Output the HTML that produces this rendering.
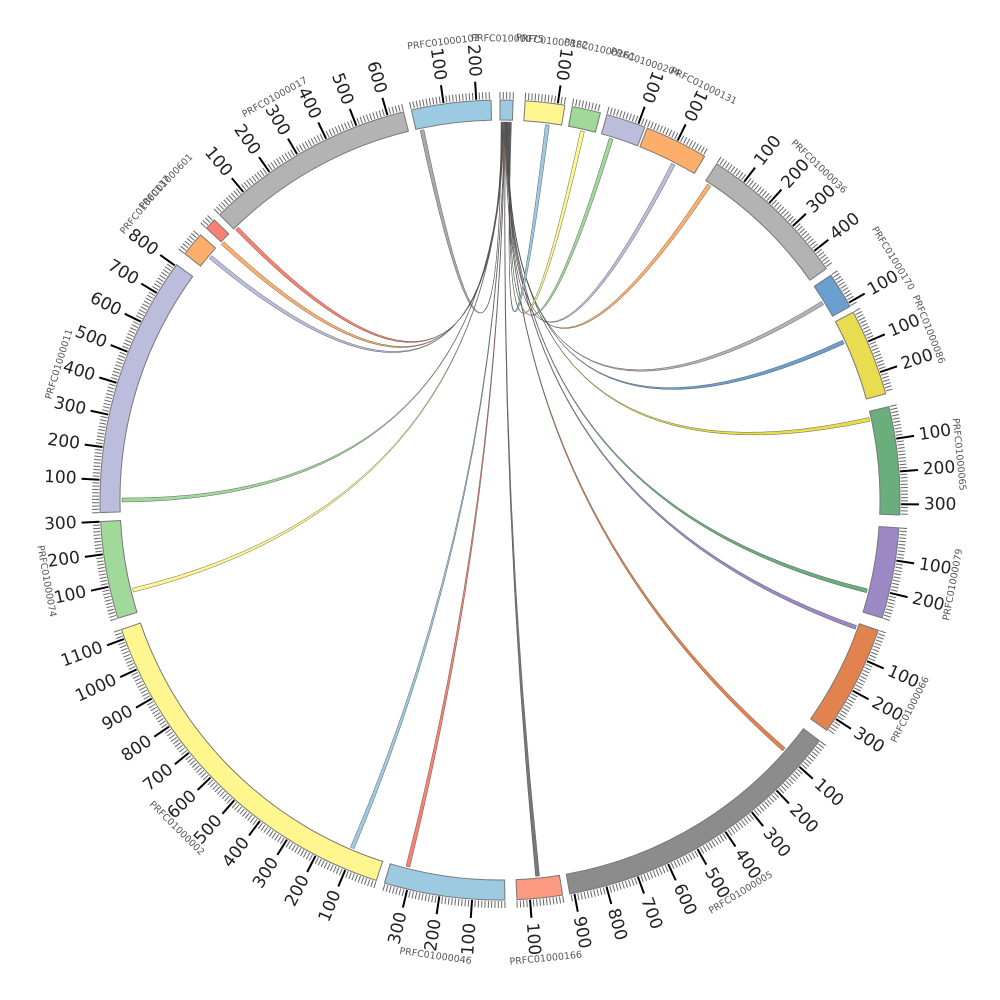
<!DOCTYPE html>
<html><head><meta charset="utf-8"><style>html,body{margin:0;padding:0;background:#fff}svg{display:block}</style></head>
<body>
<svg id="s" width="1000" height="1000" viewBox="0 0 1000 1000" xmlns="http://www.w3.org/2000/svg"></svg>
<script>
var S=0.047,CX=500,CY=500,RI=380,RO=400,RL=378;
function P(a,r){var t=a*Math.PI/180;return [(CX+r*Math.sin(t)).toFixed(2),(CY-r*Math.cos(t)).toFixed(2)];}
function pt(a,r){var p=P(a,r);return p[0]+' '+p[1];}
var segs=[
[347.2,245,'#9ccae3','PRFC01000102'],
[0.0,40,'#9ccae3','PRFC01000075'],
[3.6,122,'#fff58f','PRFC01000182'],
[10.4,88,'#a1d99b','PRFC01000261'],
[15.5,122,'#bcbddc','PRFC01000204'],
[21.6,195,'#fdae6b','PRFC01000131'],
[32.8,465,'#b3b3b3','PRFC01000036'],
[55.8,112,'#6a9fcf','PRFC01000170'],
[62.0,268,'#e8dc50','PRFC01000086'],
[76.5,333,'#69ae7c','PRFC01000065'],
[94.0,280,'#9b88c4','PRFC01000079'],
[109.0,344,'#e2834f','PRFC01000066'],
[127.0,914,'#8c8c8c','PRFC01000005'],
[171.0,140,'#fb9a80','PRFC01000166'],
[179.3,372,'#9ecae1','PRFC01000046'],
[198.0,1130,'#fff68f','PRFC01000002'],
[252.8,300,'#a1d99b','PRFC01000074'],
[268.2,805,'#bcbddc','PRFC01000011'],
[308.0,75,'#fdae6b','PRFC01000137'],
[312.8,35,'#fb8072','PRFC01000601'],
[315.5,650,'#b3b3b3','PRFC01000017']];
var links=[[348.1,'#aaaaaa'],[7.2,'#9ecae1'],[12.6,'#fff68f'],[17.1,'#a1d99b'],[27.3,'#bcbddc'],[33.6,'#fdae6b'],[58.6,'#b3b3b3'],[65.3,'#6a9fcf'],[77.7,'#e8dc4a'],[103.9,'#69ae7c'],[109.7,'#9b88c4'],[131.3,'#e2834f'],[174.3,'#777777'],[194.1,'#fb8072'],[203,'#9ecae1'],[256.2,'#fff68f'],[270,'#a1d99b'],[310,'#bcbddc'],[312.8,'#fdae6b'],[315.9,'#fb8072']];
var o='';
var sorted=links.slice().sort(function(a,b){return ((b[0]-2+360)%360)-((a[0]-2+360)%360);});
sorted.forEach(function(l,i){
 var t1=0.15+i*0.08,t2=t1+0.07,f1=l[0]-0.3,f2=l[0]+0.3;
 var d='M'+pt(t1,RL)+' A'+RL+' '+RL+' 0 0 1 '+pt(t2,RL)+' Q500 500 '+pt(f1,RL)+' A'+RL+' '+RL+' 0 0 1 '+pt(f2,RL)+' Q500 500 '+pt(t1,RL)+'Z';
 o+='<path d="'+d+'" fill="'+l[1]+'" stroke="#444" stroke-width="0.4"/>';
});
segs.forEach(function(s){
 var a0=s[0],len=s[1],a1=a0+len*S;
 var d='M'+pt(a0,RO)+' A'+RO+' '+RO+' 0 0 1 '+pt(a1,RO)+' L'+pt(a1,RI)+' A'+RI+' '+RI+' 0 0 0 '+pt(a0,RI)+'Z';
 o+='<path d="'+d+'" fill="'+s[2]+'" stroke="#777" stroke-width="1"/>';
 var tk='';
 for(var u=0;u<=len;u+=10){var a=a0+u*S;tk+='M'+pt(a,401)+' L'+pt(a,408)+' ';}
 o+='<path d="'+tk+'" stroke="#666" stroke-width="1" fill="none"/>';
 for(var u=100;u<=len;u+=100){
  var a=a0+u*S;
  o+='<path d="M'+pt(a,401)+' L'+pt(a,419)+'" stroke="#000" stroke-width="2"/>';
  var an=((a%360)+360)%360, flip=(an>=180||an<30);
  var p=P(an,424), rot=flip?an+90:an-90, anc=flip?'end':'start';
  o+='<text x="'+p[0]+'" y="'+p[1]+'" transform="rotate('+rot.toFixed(2)+' '+p[0]+' '+p[1]+')" text-anchor="'+anc+'" dominant-baseline="central" font-family="DejaVu Sans, Liberation Sans, sans-serif" font-size="17" fill="#222">'+u+'</text>';
 }
 var c=((a0+a1)/2)%360, q=P(c,461), r=c;
 if(r>180)r-=360; if(r>90)r-=180; if(r<=-90)r+=180;
 o+='<text x="'+q[0]+'" y="'+q[1]+'" transform="rotate('+r.toFixed(2)+' '+q[0]+' '+q[1]+')" text-anchor="middle" dominant-baseline="central" font-family="DejaVu Sans, Liberation Sans, sans-serif" font-size="9.5" fill="#555">'+s[3]+'</text>';
});
document.getElementById('s').innerHTML=o;
</script>
</body></html>
